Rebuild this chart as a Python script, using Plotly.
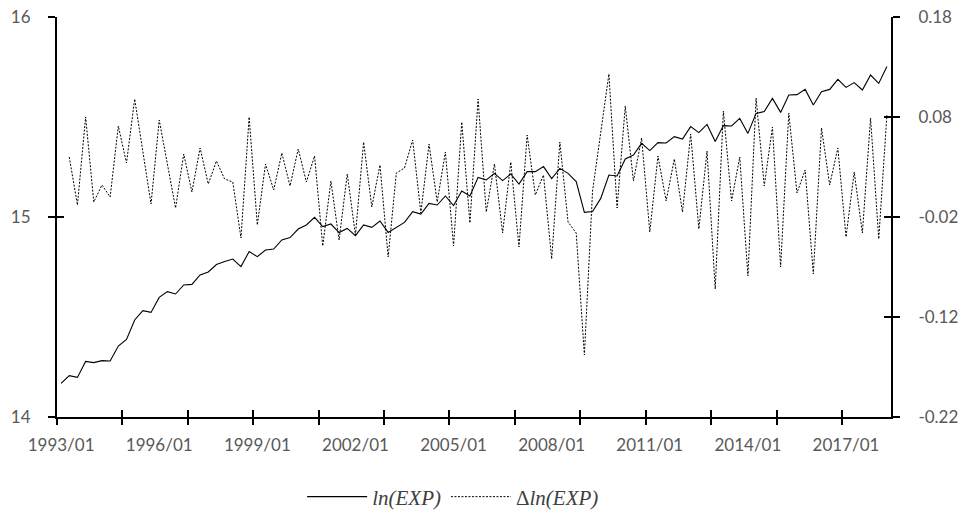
import plotly.graph_objects as go

# quarterly observations, 1993Q1 .. 2018Q2 (102 quarters)
quarters = [f"{1993 + i // 4}Q{i % 4 + 1}" for i in range(102)]

ln_exp = [14.168, 14.207, 14.198, 14.278, 14.272, 14.282, 14.280, 14.355, 14.388, 14.485,
          14.532, 14.523, 14.598, 14.627, 14.615, 14.660, 14.663, 14.710, 14.725, 14.762,
          14.778, 14.790, 14.752, 14.827, 14.802, 14.835, 14.840, 14.885, 14.897, 14.940,
          14.960, 14.998, 14.952, 14.965, 14.922, 14.943, 14.907, 14.960, 14.948, 14.980,
          14.923, 14.948, 14.973, 15.027, 15.015, 15.068, 15.060, 15.105, 15.057, 15.130,
          15.105, 15.198, 15.185, 15.218, 15.182, 15.215, 15.165, 15.227, 15.227, 15.252,
          15.192, 15.243, 15.218, 15.177, 15.023, 15.027, 15.093, 15.210, 15.205, 15.290,
          15.310, 15.368, 15.332, 15.372, 15.370, 15.402, 15.390, 15.452, 15.422, 15.463,
          15.377, 15.457, 15.455, 15.493, 15.418, 15.518, 15.527, 15.593, 15.523, 15.610,
          15.612, 15.638, 15.560, 15.627, 15.638, 15.688, 15.648, 15.672, 15.635, 15.710,
          15.668, 15.752]

# first difference, available from the 2nd quarter on
d_ln_exp = [0.040, -0.008, 0.080, -0.005, 0.012, 0.000, 0.071, 0.034, 0.098, 0.046,
            -0.007, 0.077, 0.033, -0.011, 0.043, 0.005, 0.049, 0.013, 0.036, 0.018,
            0.015, -0.041, 0.080, -0.028, 0.033, 0.007, 0.044, 0.011, 0.048, 0.015,
            0.041, -0.049, 0.016, -0.043, 0.023, -0.038, 0.055, -0.010, 0.032, -0.060,
            0.024, 0.029, 0.057, -0.016, 0.053, -0.005, 0.045, -0.049, 0.075, -0.026,
            0.098, -0.015, 0.033, -0.036, 0.035, -0.050, 0.062, 0.002, 0.022, -0.062,
            0.055, -0.025, -0.036, -0.158, 0.006, 0.063, 0.123, -0.011, 0.091, 0.016,
            0.059, -0.035, 0.041, -0.004, 0.038, -0.015, 0.063, -0.032, 0.046, -0.092,
            0.086, -0.004, 0.040, -0.079, 0.099, 0.011, 0.070, -0.070, 0.084, 0.004,
            0.027, -0.077, 0.069, 0.012, 0.049, -0.040, 0.025, -0.036, 0.079, -0.042,
            0.082]

x_labels = ["1993/01", "1996/01", "1999/01", "2002/01", "2005/01",
            "2008/01", "2011/01", "2014/01", "2017/01"]
left_ticks = [14, 15, 16]
right_ticks = [-0.22, -0.12, -0.02, 0.08, 0.18]
right_ticktext = ["-0.22", "-0.12", "-0.02", "0.08", "0.18"]

n = len(quarters)
xi = list(range(n))
label_pos = [quarters.index(f"{lab[:4]}Q1") for lab in x_labels]
tick_marks = [i - 0.5 for i in range(0, n, 8)]
xr = [-0.5, n - 0.5]

TICKFONT = dict(family="Lato, Carlito, Calibri, sans-serif", size=17, color="#595959")
NOAUTO = dict(automargin=False, showgrid=False, zeroline=False)

fig = go.Figure()
fig.add_trace(go.Scatter(x=xi, y=ln_exp, mode="lines", name="<i>ln(EXP)</i>",
                         line=dict(color="black", width=1.1), xaxis="x", yaxis="y"))
fig.add_trace(go.Scatter(x=xi[1:], y=d_ln_exp, mode="lines", name="Δ<i>ln(EXP)</i>",
                         line=dict(color="black", width=1, dash="2px,1.5px"),
                         xaxis="x", yaxis="y2"))
# carriers for the crossing tick-mark axes
for xa, ya in [("x2", "y"), ("x3", "y"), ("x", "y3"), ("x", "y4")]:
    fig.add_trace(go.Scatter(x=[None], y=[None], xaxis=xa, yaxis=ya, showlegend=False,
                             hoverinfo="skip", mode="lines"))

fig.update_layout(
    width=969, height=525,
    margin=dict(l=57, r=78, t=17, b=108, autoexpand=False),
    paper_bgcolor="white", plot_bgcolor="white",
    xaxis=dict(range=xr, tickmode="array", tickvals=label_pos, ticktext=x_labels,
               ticks="", showline=True, linecolor="black", linewidth=2,
               tickfont=TICKFONT, ticklabelstandoff=12, ticklabeloverflow="allow",
               **NOAUTO),
    xaxis2=dict(range=xr, overlaying="x", anchor="y", side="bottom", tickmode="array",
                tickvals=tick_marks, ticks="outside", ticklen=7, tickwidth=2,
                tickcolor="black", showticklabels=False, showline=False, **NOAUTO),
    xaxis3=dict(range=xr, overlaying="x", anchor="y", side="bottom", tickmode="array",
                tickvals=tick_marks, ticks="inside", ticklen=7, tickwidth=2,
                tickcolor="black", showticklabels=False, showline=False, **NOAUTO),
    yaxis=dict(range=[14, 16], tickmode="array", tickvals=left_ticks,
               ticks="outside", ticklen=7, tickwidth=2, tickcolor="black",
               showline=True, linecolor="black", linewidth=2,
               tickfont=TICKFONT, ticklabelstandoff=14, ticklabeloverflow="allow",
               **NOAUTO),
    yaxis3=dict(range=[14, 16], overlaying="y", side="left", anchor="x",
                tickmode="array", tickvals=left_ticks, ticks="inside", ticklen=7,
                tickwidth=2, tickcolor="black", showticklabels=False,
                showline=False, **NOAUTO),
    yaxis2=dict(range=[-0.22, 0.18], overlaying="y", side="right", anchor="x",
                tickmode="array", tickvals=right_ticks, ticktext=right_ticktext,
                ticks="outside", ticklen=7, tickwidth=2, tickcolor="black",
                showline=True, linecolor="black", linewidth=2,
                tickfont=TICKFONT, ticklabelstandoff=15, ticklabeloverflow="allow",
                **NOAUTO),
    yaxis4=dict(range=[-0.22, 0.18], overlaying="y", side="right", anchor="x",
                tickmode="array", tickvals=right_ticks, ticks="inside", ticklen=7,
                tickwidth=2, tickcolor="black", showticklabels=False,
                showline=False, **NOAUTO),
    legend=dict(orientation="h", x=0.475, xanchor="center", y=-0.2, yanchor="middle",
                font=dict(family="Liberation Serif, serif", size=21, color="#404040"),
                itemwidth=60, bgcolor="rgba(0,0,0,0)"),
    showlegend=True,
)

# remove the browser's default body margin so the figure fills the window exactly
fig.write_html("out.html",
               config={"displayModeBar": False},
               post_script="document.body.style.margin='0';document.body.style.overflow='hidden';")
